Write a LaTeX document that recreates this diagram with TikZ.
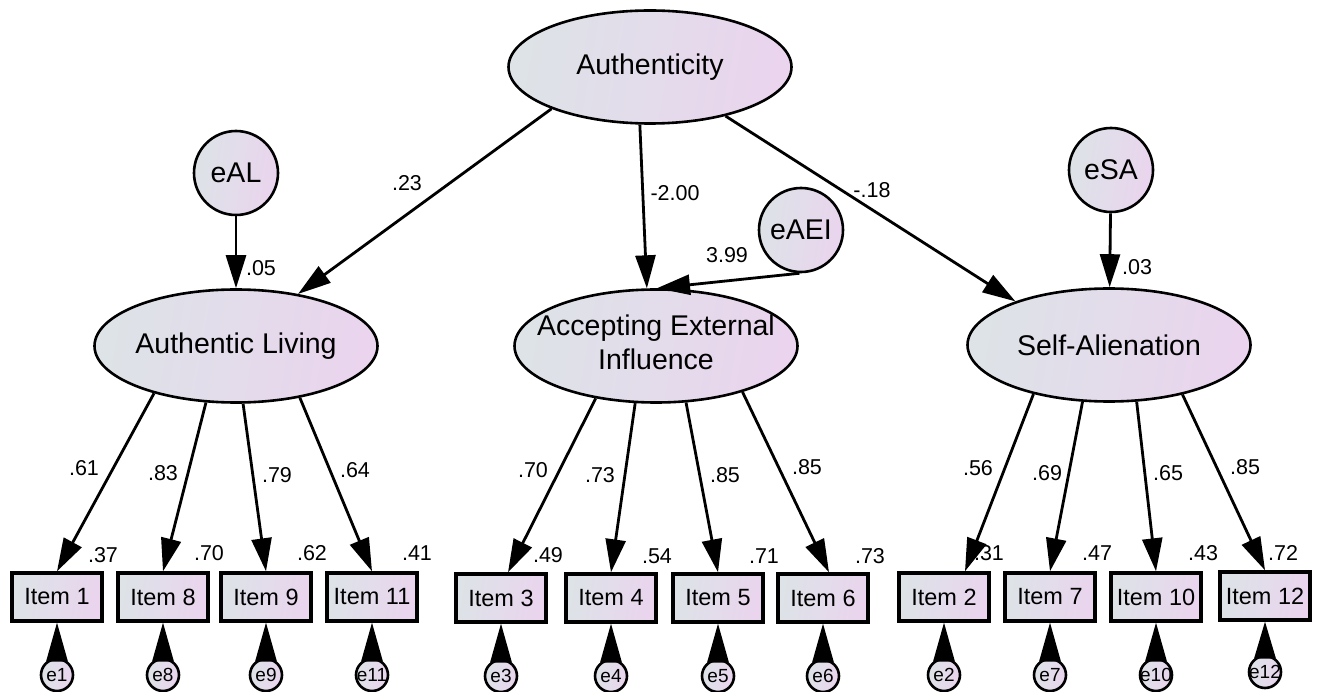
\documentclass[tikz,border=0pt]{standalone}
\usepackage{fontspec}
\setmainfont{Liberation Sans}
\usetikzlibrary{shapes.geometric,arrows.meta,calc}
\definecolor{gL}{RGB}{221,227,231}
\definecolor{gR}{RGB}{234,212,238}
\begin{document}
\begin{tikzpicture}[x=1pt,y=-1pt,
  fillg/.style={left color=gL,right color=gR,shading angle=80},
  lat/.style={ellipse,draw,line width=2.6pt,fillg,minimum width=283pt,minimum height=113pt,inner sep=0pt,font=\fontsize{28.5}{34}\selectfont},
  err/.style={circle,draw,line width=2.6pt,fillg,minimum size=84pt,inner sep=0pt,font=\fontsize{28.5}{34}\selectfont},
  obs/.style={rectangle,draw,line width=3.4pt,fillg,minimum width=90pt,minimum height=48pt,inner sep=0pt,font=\fontsize{23.5}{28}\selectfont},
  eps/.style={circle,draw,line width=2.6pt,fillg,minimum size=32pt,inner sep=0pt,font=\fontsize{19}{22}\selectfont},
  arr/.style={-{Triangle[length=33pt,width=20pt]},line width=2.8pt},
  wedge/.style={fill=black},
  val/.style={inner sep=0pt,font=\fontsize{21.5}{25}\selectfont},
]
\useasboundingbox (0,0) rectangle (1317,692);

% latent variables
\node[lat] (A) at (650,67) {\makebox[0pt]{Authenticity}};
\node[lat] (AL) at (236,346) {\makebox[0pt]{Authentic Living}};
\node[lat] (AEI) at (656,346) {\makebox[0pt]{\begin{tabular}{@{}c@{}}Accepting External\\Influence\end{tabular}}};
\node[lat] (SA) at (1109,345) {\makebox[0pt]{Self-Alienation}};

% disturbances
\node[err] (eAL) at (236,173) {eAL};
\node[err] (eAEI) at (801,230) {eAEI};
\node[err] (eSA) at (1111,170) {eSA};

% observed items
\node[obs] (I1) at (57,597) {Item 1};
\node[obs] (I8) at (163,597) {Item 8};
\node[obs] (I9) at (266,597) {Item 9};
\node[obs] (I11) at (372,597) {Item 11};
\node[obs] (I3) at (501,598) {Item 3};
\node[obs] (I4) at (611,598) {Item 4};
\node[obs] (I5) at (718,598) {Item 5};
\node[obs] (I6) at (823,598) {Item 6};
\node[obs] (I2) at (944,597) {Item 2};
\node[obs] (I7) at (1050,597) {Item 7};
\node[obs] (I10) at (1156,597) {Item 10};
\node[obs] (I12) at (1265,596) {Item 12};

% error terms
\node[eps] (e1) at (57,675) {\makebox[0pt]{e1}};
\node[eps] (e8) at (163,675) {\makebox[0pt]{e8}};
\node[eps] (e9) at (266,675) {\makebox[0pt]{e9}};
\node[eps] (e11) at (372,675) {\makebox[0pt]{e11}};
\node[eps] (e3) at (501,676) {\makebox[0pt]{e3}};
\node[eps] (e4) at (611,676) {\makebox[0pt]{e4}};
\node[eps] (e5) at (718,676) {\makebox[0pt]{e5}};
\node[eps] (e6) at (823,676) {\makebox[0pt]{e6}};
\node[eps] (e2) at (944,675) {\makebox[0pt]{e2}};
\node[eps] (e7) at (1050,675) {\makebox[0pt]{e7}};
\node[eps] (e10) at (1156,675) {\makebox[0pt]{e10}};
\node[eps] (e12) at (1265,672) {\makebox[0pt]{e12}};

% structural paths
\draw[arr] (A.203) -- (AL.40);
\draw[arr] (A.260) -- (AEI.99);
\draw[arr] (A.327) -- (SA.155);
\draw[arr] (eAL) -- (AL);
\draw[arr] (eSA) -- (SA);
\draw[arr] (eAEI.268) -- (AEI.89);

% loadings
\draw[arr] (AL.210) -- (I1.north);
\draw[arr] (AL.242) -- (I8.north);
\draw[arr] (AL.277) -- (I9.north);
\draw[arr] (AL.321) -- (I11.north);
\draw[arr] (AEI.221) -- ($(I3.north)+(7,0)$);
\draw[arr] (AEI.250) -- (I4.north);
\draw[arr] (AEI.298) -- (I5.north);
\draw[arr] (AEI.332) -- ($(I6.north)+(6,0)$);
\draw[arr] (SA.213) -- ($(I2.north)+(21,0)$);
\draw[arr] (SA.245) -- (I7.north);
\draw[arr] (SA.296) -- (I10.north);
\draw[arr] (SA.326) -- (I12.north);

% error arrows (wedge-shaped heads from error circle to item)
\foreach \e/\i in {e1/I1,e8/I8,e9/I9,e11/I11,e3/I3,e4/I4,e5/I5,e6/I6,e2/I2,e7/I7,e10/I10,e12/I12}
  \fill[wedge] (\i.south) -- ($(\e.north)+(-11,4)$) -- ($(\e.north)+(11,4)$) -- cycle;

% path labels
\node[val] (l23) at (407,183) {.23};
\node[val] (l200) at (675,193) {-2.00};
\node[val] (l18) at (872,190) {-.18};
\node[val] (l399) at (727,255) {3.99};
\node[val] (l05) at (261,268) {.05};
\node[val] (l03) at (1137,267) {.03};

\node[val] (a61) at (84,468) {.61};
\node[val] (a83) at (163,473) {.83};
\node[val] (a79) at (277,475) {.79};
\node[val] (a64) at (355,470) {.64};
\node[val] (b70) at (533,470) {.70};
\node[val] (b73) at (600,475) {.73};
\node[val] (b85) at (725,475) {.85};
\node[val] (b85b) at (807,467) {.85};
\node[val] (c56) at (978,468) {.56};
\node[val] (c69) at (1047,473) {.69};
\node[val] (c65) at (1168,473) {.65};
\node[val] (c85) at (1245,467) {.85};

\node[val] (r37) at (103,555) {.37};
\node[val] (r70) at (209,553) {.70};
\node[val] (r62) at (312,553) {.62};
\node[val] (r41) at (417,553) {.41};
\node[val] (r49) at (548,555) {.49};
\node[val] (r54) at (657,556) {.54};
\node[val] (r71) at (764,556) {.71};
\node[val] (r73) at (870,556) {.73};
\node[val] (r31) at (989,553) {.31};
\node[val] (r47) at (1097,553) {.47};
\node[val] (r43) at (1203,553) {.43};
\node[val] (r72) at (1283,553) {.72};
\end{tikzpicture}
\end{document}
